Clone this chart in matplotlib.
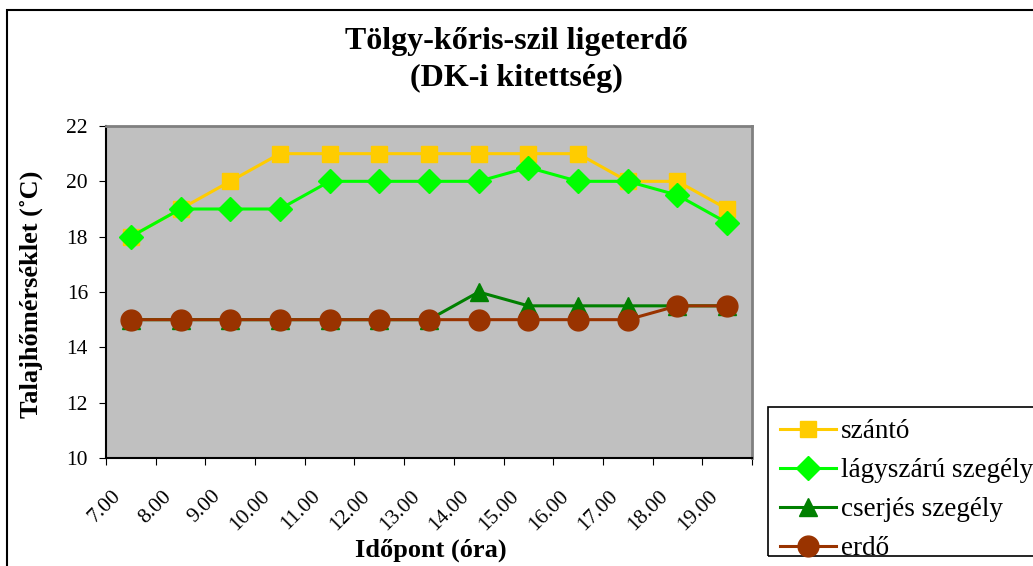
import matplotlib
matplotlib.use("Agg")
import matplotlib.pyplot as plt
from matplotlib.patches import Rectangle
from matplotlib.transforms import ScaledTranslation

categories = ["7.00", "8.00", "9.00", "10.00", "11.00", "12.00", "13.00",
              "14.00", "15.00", "16.00", "17.00", "18.00", "19.00"]
szanto = [18, 19, 20, 21, 21, 21, 21, 21, 21, 21, 20, 20, 19]
lagyszaru = [18, 19, 19, 19, 20, 20, 20, 20, 20.5, 20, 20, 19.5, 18.5]
cserjes = [15, 15, 15, 15, 15, 15, 15, 16, 15.5, 15.5, 15.5, 15.5, 15.5]
erdo = [15, 15, 15, 15, 15, 15, 15, 15, 15, 15, 15, 15.5, 15.5]
series_names = ["szántó", "lágyszárú szegély", "cserjés szegély", "erdő"]
y_ticks = [10, 12, 14, 16, 18, 20, 22]

plt.rcParams['font.family'] = ['Liberation Serif', 'DejaVu Serif']

W, H = 1033, 566
fig = plt.figure(figsize=(W / 100, H / 100), dpi=100)

# chart border (top and left visible)
fig.add_artist(Rectangle((7 / W, -0.1), 1.2, 1 - 10 / H + 0.1, transform=fig.transFigure,
                         fill=False, edgecolor='black', linewidth=1.5))
# legend frame (extends past the right edge)
fig.add_artist(Rectangle((768 / W, 1 - 556 / H), 0.5, (556 - 407) / H,
                         transform=fig.transFigure, fill=False,
                         edgecolor='black', linewidth=1.2))

ax = fig.add_axes([106 / W, 1 - 458 / H, (752 - 106) / W, (458 - 126) / H])
ax.set_facecolor('#C0C0C0')

x = list(range(len(categories)))
styles = [
    (szanto, '#FFCC00', 's', 11.5),
    (lagyszaru, '#00FF00', 'D', 12),
    (cserjes, '#008000', '^', 13),
    (erdo, '#993300', 'o', 15),
]
handles = []
for (vals, col, mk, ms), name in zip(styles, series_names):
    ln, = ax.plot(x, vals, color=col, marker=mk, markersize=ms, linewidth=2.2,
                  markeredgecolor=col, label=name, clip_on=False)
    handles.append(ln)

ax.set_xlim(-0.5, len(categories) - 0.5)
ax.set_ylim(10, 22)
ax.set_yticks(y_ticks)
ax.set_yticklabels([str(v) for v in y_ticks], fontsize=15.5)
ax.set_xticks([i - 0.5 for i in range(len(categories) + 1)], minor=False)
ax.set_xticklabels([])
ax.set_xticks(x, minor=True)
ax.set_xticklabels(categories, minor=True, rotation=45, ha='right', va='top',
                   rotation_mode='anchor', fontsize=15.5)
ax.tick_params(axis='x', which='minor', length=0, pad=10)
ax.tick_params(axis='x', which='major', length=5, direction='out', color='black')
ax.tick_params(axis='y', length=5, direction='out', color='black', pad=8)
off = ScaledTranslation(-19 / 100, -15 / 100, fig.dpi_scale_trans)
for lab in ax.get_xticklabels(minor=True):
    lab.set_transform(lab.get_transform() + off)

for s in ['top', 'right']:
    ax.spines[s].set_color('#808080')
    ax.spines[s].set_linewidth(2)
for s in ['left', 'bottom']:
    ax.spines[s].set_color('black')
    ax.spines[s].set_linewidth(1.5)

fig.text(0.5, 1 - 42 / H, "Tölgy-kőris-szil ligeterdő", ha='center', va='center',
         fontsize=23, fontweight='bold')
fig.text(0.5, 1 - 78 / H, "(DK-i kitettség)", ha='center', va='center',
         fontsize=23, fontweight='bold')
fig.text(31 / W, 1 - 294 / H, "Talajhőmérséklet (˚C)", ha='center', va='center',
         rotation=90, fontsize=19, fontweight='bold')
fig.text(431 / W, 1 - 550 / H, "Időpont (óra)", ha='center', va='center',
         fontsize=19, fontweight='bold')

leg = fig.legend(handles=handles, labels=series_names, loc='upper left',
                 bbox_to_anchor=(768 / W, 1 - 407 / H), bbox_transform=fig.transFigure,
                 fontsize=19.5, frameon=False, handlelength=2.05,
                 handletextpad=0.2, labelspacing=0.52, borderpad=0.45,
                 borderaxespad=0)

fig.savefig("out.png", dpi=100)
